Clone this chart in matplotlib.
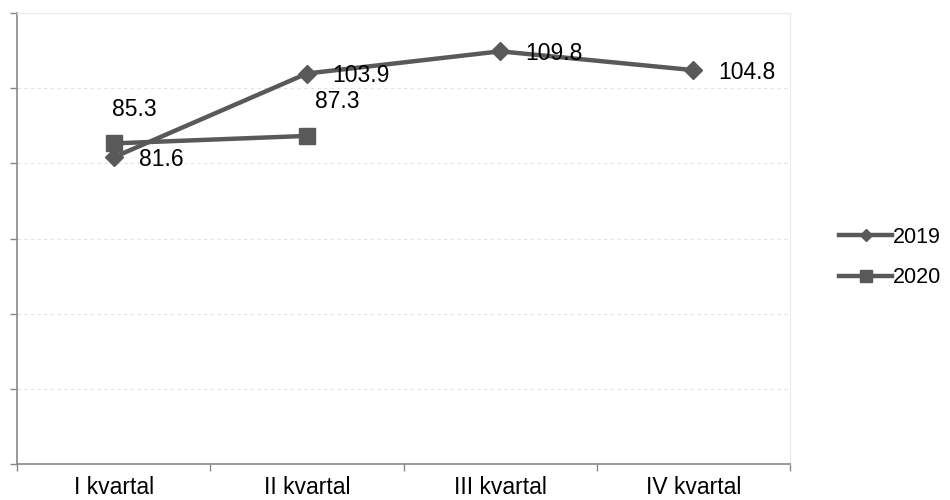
import numpy as np
import matplotlib.pyplot as plt

plt.rcParams['font.family'] = ['Liberation Sans', 'DejaVu Sans']

##
## Data
##
quarters = ['I kvartal', 'II kvartal', 'III kvartal', 'IV kvartal']
vals_2019 = [81.6, 103.9, 109.8, 104.8]
vals_2020 = [85.3, 87.3]

# label offsets for 2020 (points), placed by hand as in the original
off_2020 = [(15, 24.5), (22, 24.5)]

col = '#595959'
fs = 16.5

fig = plt.figure(figsize=(9.5, 5), dpi=100)
ax = fig.add_axes([0.0179, 0.072, 0.8137, 0.902])

x19 = np.arange(len(vals_2019))
x20 = np.arange(len(vals_2020))
ax.plot(x19, vals_2019, color=col, lw=3.2, marker='D', ms=9, label='2019')
ax.plot(x20, vals_2020, color=col, lw=3.2, marker='s', ms=11.5, label='2020')

# data labels
for xi, v in zip(x19, vals_2019):
    ax.annotate('%.1f' % v, (xi, v), xytext=(18, -1.5), textcoords='offset points',
                ha='left', va='center', fontsize=fs)
for xi, v, o in zip(x20, vals_2020, off_2020):
    ax.annotate('%.1f' % v, (xi, v), xytext=o, textcoords='offset points',
                ha='center', va='center', fontsize=fs)

ax.set_xlim(-0.5, len(quarters) - 0.5)
ax.set_ylim(0, 120)
ax.set_yticks(np.arange(0, 121, 20))
ax.set_yticklabels([])
ax.set_xticks(x19)
ax.set_xticklabels(quarters, fontsize=fs)
ax.set_xticks(np.arange(-0.5, len(quarters), 1), minor=True)
ax.tick_params(axis='x', which='major', length=0, pad=9)
ax.tick_params(axis='x', which='minor', length=5, color='#888888', width=1)
ax.tick_params(axis='y', length=5, color='#888888', width=1)

ax.grid(axis='y', color='#e3e3e3', ls=(0, (3, 3)), lw=0.8)
for s in ['left', 'bottom']:
    ax.spines[s].set_color('#888888')
    ax.spines[s].set_linewidth(1.2)
for s in ['top', 'right']:
    ax.spines[s].set_color('#ebebeb')
    ax.spines[s].set_linewidth(1)

fig.legend(loc='center left', bbox_to_anchor=(0.863, 0.485), frameon=False,
           fontsize=15.5, handlelength=2.45, handletextpad=0.05, labelspacing=0.9,
           borderpad=0.4, markerscale=0.7)

plt.savefig('out.png')
